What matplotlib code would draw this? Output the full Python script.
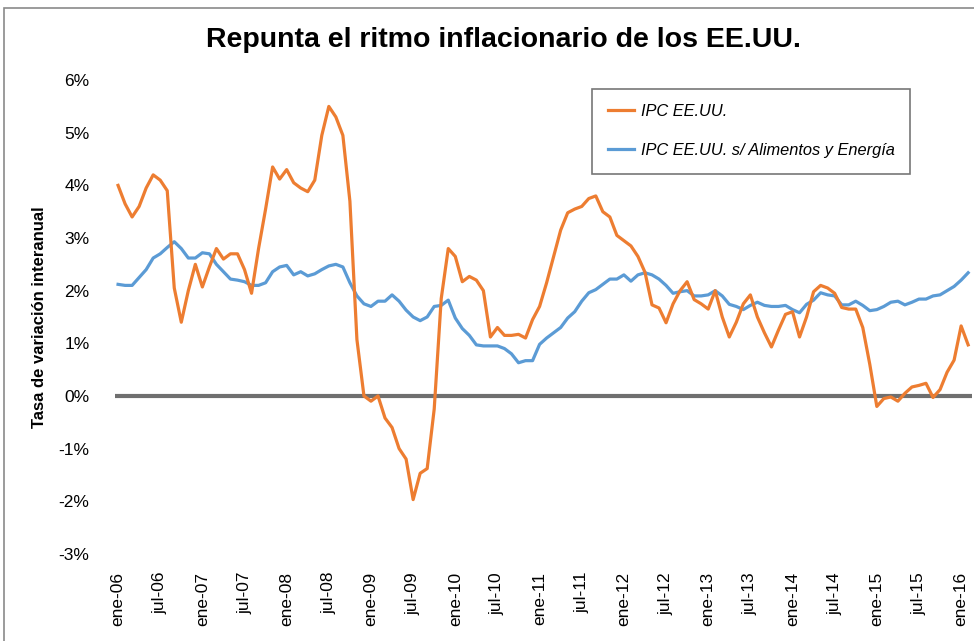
import matplotlib.pyplot as plt
from matplotlib.patches import Rectangle

plt.rcParams['font.family'] = ['Liberation Sans', 'DejaVu Sans']

# Monthly series, ene-06 .. feb-16 (% interanual)
ipc = [4.0, 3.65, 3.4, 3.6, 3.95, 4.2, 4.1, 3.9, 2.05, 1.4, 2.0, 2.5,
       2.07, 2.45, 2.8, 2.6, 2.7, 2.7, 2.4, 1.95, 2.8, 3.55, 4.35, 4.12,
       4.3, 4.05, 3.95, 3.88, 4.1, 4.95, 5.5, 5.3, 4.95, 3.7, 1.07, 0.0,
       -0.1, 0.0, -0.42, -0.6, -1.0, -1.2, -1.97, -1.47, -1.38, -0.25, 1.85, 2.8,
       2.65, 2.17, 2.27, 2.2, 2.0, 1.12, 1.3, 1.15, 1.15, 1.17, 1.1, 1.45,
       1.7, 2.15, 2.65, 3.15, 3.48, 3.55, 3.6, 3.75, 3.8, 3.5, 3.4, 3.05,
       2.95, 2.85, 2.65, 2.35, 1.73, 1.67, 1.39, 1.75, 2.0, 2.17, 1.83, 1.75,
       1.65, 2.0, 1.5, 1.12, 1.4, 1.75, 1.92, 1.5, 1.2, 0.93, 1.25, 1.55,
       1.6, 1.12, 1.5, 1.98, 2.1, 2.05, 1.95, 1.68, 1.65, 1.65, 1.3, 0.6,
       -0.2, -0.05, -0.02, -0.1, 0.05, 0.17, 0.2, 0.24, -0.03, 0.12, 0.45, 0.68,
       1.33, 0.97]

ipc_core = [2.12, 2.1, 2.1, 2.25, 2.4, 2.62, 2.7, 2.82, 2.93, 2.8, 2.62, 2.62,
            2.72, 2.7, 2.5, 2.36, 2.22, 2.2, 2.17, 2.1, 2.1, 2.15, 2.36, 2.45,
            2.48, 2.3, 2.36, 2.28, 2.32, 2.4, 2.47, 2.5, 2.45, 2.15, 1.9, 1.75,
            1.7, 1.8, 1.8, 1.92, 1.8, 1.63, 1.5, 1.43, 1.5, 1.7, 1.72, 1.82,
            1.48, 1.28, 1.15, 0.97, 0.95, 0.95, 0.95, 0.9, 0.8, 0.63, 0.67, 0.67,
            0.98, 1.1, 1.2, 1.3, 1.48, 1.6, 1.8, 1.96, 2.02, 2.12, 2.22, 2.22,
            2.3, 2.18, 2.3, 2.34, 2.3, 2.22, 2.1, 1.95, 1.98, 2.0, 1.9, 1.9,
            1.92, 2.0, 1.9, 1.74, 1.7, 1.64, 1.72, 1.78, 1.72, 1.7, 1.7, 1.72,
            1.64, 1.58, 1.74, 1.82, 1.96, 1.92, 1.9, 1.73, 1.73, 1.8, 1.72, 1.62,
            1.64, 1.7, 1.78, 1.8, 1.73, 1.78, 1.84, 1.84, 1.9, 1.92, 2.0, 2.08,
            2.2, 2.34]

tick_labels = ['ene-06', 'jul-06', 'ene-07', 'jul-07', 'ene-08', 'jul-08',
               'ene-09', 'jul-09', 'ene-10', 'jul-10', 'ene-11', 'jul-11',
               'ene-12', 'jul-12', 'ene-13', 'jul-13', 'ene-14', 'jul-14',
               'ene-15', 'jul-15', 'ene-16']
y_ticks = [-3, -2, -1, 0, 1, 2, 3, 4, 5, 6]

fig = plt.figure(figsize=(9.74, 6.41), dpi=100)
ax = fig.add_axes([0.1176, 0.136, 0.880, 0.739])

x = range(len(ipc))
ax.axhline(0, color='#6f6f6f', lw=3, zorder=1)
ax.plot(x, ipc, color='#ED7D31', lw=2.3, label='IPC EE.UU.', zorder=3)
ax.plot(x, ipc_core, color='#5B9BD5', lw=2.3,
        label='IPC EE.UU. s/ Alimentos y Energía', zorder=2)

ax.set_xlim(-0.5, len(ipc) - 0.5)
ax.set_ylim(-3, 6)
ax.set_xticks(range(0, len(ipc), 6)[:len(tick_labels)])
ax.set_xticklabels(tick_labels, rotation=90, fontsize=12.5)
ax.set_yticks(y_ticks)
ax.set_yticklabels([f'{v}%' for v in y_ticks], fontsize=12.5)
ax.tick_params(length=0, pad=18)
ax.tick_params(axis='x', pad=13)
for s in ax.spines.values():
    s.set_visible(False)

ax.set_ylabel('Tasa de variación interanual', fontsize=12, fontweight='bold',
              labelpad=8)

leg = ax.legend(loc='upper left', bbox_to_anchor=(0.5575, 0.982),
                prop={'style': 'italic', 'size': 11.8}, fancybox=False,
                edgecolor='#555555', borderpad=0.95, labelspacing=1.45,
                handlelength=1.6, handletextpad=0.4, borderaxespad=0)
leg.get_frame().set_linewidth(1.2)

fig.suptitle('Repunta el ritmo inflacionario de los EE.UU.', fontsize=20.5,
             fontweight='bold', x=0.517, y=0.938, va='center')

fig.patches.append(Rectangle((4 / 974, -0.1), 1.2, 1 - 8 / 641 + 0.1,
                             transform=fig.transFigure, fill=False,
                             edgecolor='#8a8a8a', lw=1.2))

fig.savefig('out.png', dpi=100)
